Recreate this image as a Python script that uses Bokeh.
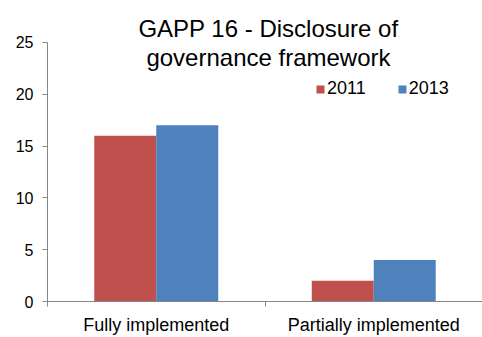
import numpy as np
from bokeh.plotting import figure
from bokeh.models import ColumnDataSource, Range1d, FixedTicker, Label, Legend, LegendItem
from bokeh.transform import dodge
from bokeh.embed import file_html
from bokeh.resources import INLINE

# ---- data ----
title_lines = ["GAPP 16 - Disclosure of", "governance framework"]
categories = ["Fully implemented", "Partially implemented"]
series_names = ["2011", "2013"]
values_2011 = [16, 2]
values_2013 = [17, 4]
y_ticks = [0, 5, 10, 15, 20, 25]

# ---- styles ----
RED = "#C0504D"
BLUE = "#4F81BD"
AXIS = "#868686"
FONT = "Liberation Sans"
BAR_W = 0.285
Y_TOP = 29.05  # headroom above the axis for title/legend

centers = np.arange(len(categories)) + 0.5
source = ColumnDataSource(dict(x=centers, cat=categories,
                               v2011=values_2011, v2013=values_2013))

p = figure(width=482, height=337, output_backend="svg", toolbar_location=None,
           x_range=Range1d(0, len(categories)), y_range=Range1d(y_ticks[0], Y_TOP),
           min_border_left=47, min_border_right=0, min_border_top=0, min_border_bottom=35)
p.outline_line_color = None
p.grid.visible = False
p.background_fill_color = "white"
p.border_fill_color = "white"

r1 = p.vbar(x=dodge("x", -BAR_W / 2), top="v2011", width=BAR_W, source=source,
            fill_color=RED, line_color=None)
r2 = p.vbar(x=dodge("x", BAR_W / 2), top="v2013", width=BAR_W, source=source,
            fill_color=BLUE, line_color=None)

xa = p.xaxis[0]
xa.ticker = FixedTicker(ticks=[float(c) for c in centers],
                        minor_ticks=list(range(len(categories) + 1)))
xa.major_label_overrides = {float(c): cat for c, cat in zip(centers, categories)}
xa.major_tick_line_color = None
xa.major_tick_out = 0
xa.major_tick_in = 0
xa.minor_tick_out = 5
xa.minor_tick_in = 0
xa.minor_tick_line_color = AXIS
xa.axis_line_color = AXIS
xa.major_label_text_font = FONT
xa.major_label_text_font_size = "18px"
xa.major_label_text_color = "black"
xa.major_label_standoff = 8

ya = p.yaxis[0]
ya.ticker = FixedTicker(ticks=y_ticks)
ya.bounds = (y_ticks[0], y_ticks[-1])
ya.axis_line_color = AXIS
ya.major_tick_line_color = AXIS
ya.major_tick_out = 5
ya.major_tick_in = 0
ya.minor_tick_line_color = None
ya.major_label_text_font = FONT
ya.major_label_text_font_size = "16px"
ya.major_label_text_color = "black"
ya.major_label_standoff = 9

legend = Legend(items=[LegendItem(label=series_names[0], renderers=[r1]),
                       LegendItem(label=series_names[1], renderers=[r2])],
                orientation="horizontal", location=(268, 202),
                glyph_width=10, glyph_height=10, label_standoff=2, spacing=31,
                padding=0, margin=0, border_line_color=None, background_fill_alpha=0,
                label_text_font=FONT, label_text_font_size="18px", label_text_color="black")
p.add_layout(legend)

for txt, yy in zip(title_lines, [26.35, 23.55]):
    p.add_layout(Label(x=1.016, y=yy, text=txt, text_align="center",
                       text_baseline="alphabetic", text_font=FONT,
                       text_font_size="24px", text_color="black"))

open("out.html", "w").write(file_html(p, INLINE))
